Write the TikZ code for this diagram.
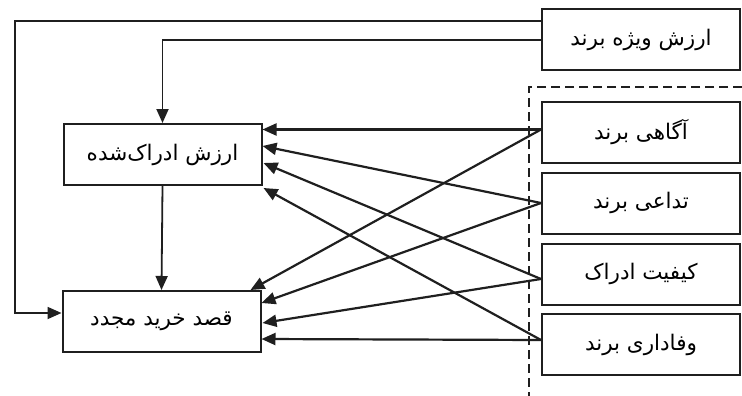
\documentclass[tikz,border=0pt]{standalone}
\usepackage{fontspec}
\usetikzlibrary{arrows.meta}
\TeXXeTstate=1
\newfontfamily\arabicfont[Script=Arabic]{DejaVu Sans}
\newcommand{\fa}[1]{{\arabicfont\beginR #1\endR}}
\begin{document}
\begin{tikzpicture}[x=1pt,y=-1pt,
  boxst/.style={draw=black!88,line width=2pt,rectangle,minimum width=198pt,minimum height=61pt,inner sep=0pt,font=\fontsize{21.5}{23}\selectfont},
  arr/.style={draw=black!88,line width=2.2pt,-{Triangle[length=14pt,width=12pt]}},
  thinarr/.style={draw=black!88,line width=1.8pt,-{Triangle[length=14pt,width=12pt]}},
  dashst/.style={draw=black!88,line width=1.6pt,dash pattern=on 9pt off 5pt}]
\useasboundingbox (0,0) rectangle (742,396);
\fill[white] (0,0) rectangle (742,396);
% nodes
\node[boxst] (BE) at (641,40) {\fa{ارزش ویژه برند}};
\node[boxst] (PV) at (162.5,154.5) {\fa{ارزش ادراک‌شده}};
\node[boxst] (PI) at (161.5,321.5) {\fa{قصد خرید مجدد}};
\node[boxst] (AW) at (641,132.5) {\fa{آگاهی برند}};
\node[boxst] (AS) at (641,203) {\fa{تداعی برند}};
\node[boxst] (QU) at (641,274) {\fa{کیفیت ادراک}};
\node[boxst] (LO) at (641,344.5) {\fa{وفاداری برند}};
% dashed boundary
\coordinate (dc) at (529,87);
\coordinate (dr) at (742,87);
\coordinate (db) at (529,396);
\draw[dashst] (dr) -- (dc) -- (db);
% brand equity links
\coordinate (cL) at (15,313);
\draw[thinarr] ([yshift=19pt]BE.west) -| (cL) -- ([yshift=8.5pt]PI.west);
\draw[thinarr] (BE.west) -| (PV.north);
\draw[thinarr] (PV.south) -- (PI.north);
% sources
\coordinate (sAW) at ([yshift=3pt]AW.west);
\coordinate (sAS) at (AS.west);
\coordinate (sQU) at ([yshift=-5pt]QU.west);
\coordinate (sLO) at ([yshift=4.5pt]LO.west);
% to perceived value
\draw[arr] (sAW) -- ([yshift=25pt]PV.east);
\draw[arr] (sAS) -- ([yshift=8.5pt]PV.east);
\draw[arr] (sQU) -- ([xshift=1pt,yshift=-8.5pt]PV.east);
\draw[arr] (sLO) -- ([xshift=1pt,yshift=-2pt]PV.south east);
% to repurchase intention
\draw[arr] (sAW) -- ([xshift=-11pt]PI.north east);
\draw[arr] (sAS) -- ([yshift=18.5pt]PI.east);
\draw[arr] (sQU) -- ([xshift=1pt,yshift=-1.5pt]PI.east);
\draw[arr] (sLO) -- ([yshift=-17.5pt]PI.east);
\end{tikzpicture}
\end{document}
